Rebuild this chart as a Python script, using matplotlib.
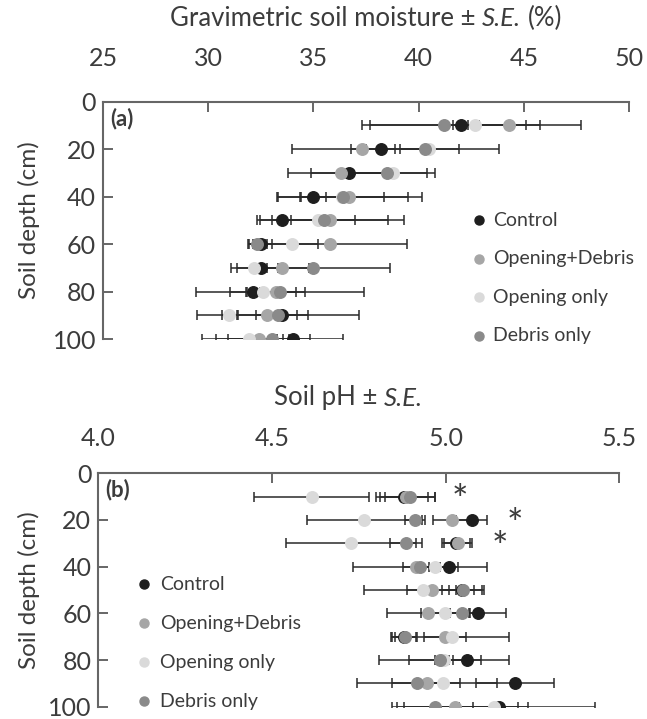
import numpy as np
import matplotlib
matplotlib.use("Agg")
import matplotlib.pyplot as plt

plt.rcParams['font.family'] = ['Lato', 'DejaVu Sans']

depth = [10, 20, 30, 40, 50, 60, 70, 80, 90, 100]
groups = ['Control', 'Opening+Debris', 'Opening only', 'Debris only']
colors = ['#1e1e1e', '#a6a6a6', '#dadada', '#8a8a8a']

# (a) gravimetric soil moisture (%)
moist_control = [42.0, 38.2, 36.7, 35.0, 33.5, 32.5, 32.5, 32.15, 33.5, 34.05]
moist_control_se = [0.35, 0.7, 1.8, 0.6, 0.45, 0.55, 0.3, 0.3, 1.25, 0.8]
moist_opdeb = [44.3, 37.3, 36.3, 36.7, 35.8, 35.8, 33.5, 33.2, 32.8, 32.4]
moist_opdeb_se = [1.45, 3.3, 2.5, 3.45, 3.5, 3.65, 1.3, 1.4, 1.4, 1.45]
moist_open = [42.7, 40.5, 38.8, 36.35, 35.2, 34.0, 32.2, 32.6, 31.0, 31.95]
moist_open_se = [5.0, 1.4, 2.0, 2.0, 1.8, 1.2, 1.1, 1.55, 0.36, 1.6]
moist_deb = [41.2, 40.3, 38.5, 36.4, 35.5, 32.3, 35.0, 33.4, 33.3, 33.05]
moist_deb_se = [3.9, 3.5, 1.9, 3.1, 3.05, 0.4, 3.65, 4.0, 3.85, 3.35]

# (b) soil pH
ph_control = [4.88, 5.075, 5.03, 5.01, 5.046, 5.094, 4.88, 5.061, 5.2, 5.155]
ph_control_se = [0.07, 0.045, 0.04, 0.025, 0.035, 0.08, 0.036, 0.041, 0.113, 0.275]
ph_opdeb = [4.885, 5.017, 5.035, 4.915, 4.96, 4.95, 4.998, 4.99, 4.946, 5.027]
ph_opdeb_se = [0.085, 0.054, 0.04, 0.037, 0.07, 0.12, 0.06, 0.02, 0.202, 0.18]
ph_open = [4.614, 4.766, 4.728, 4.97, 4.936, 4.998, 5.017, 4.995, 4.992, 5.138]
ph_open_se = [0.165, 0.166, 0.188, 0.04, 0.17, 0.07, 0.164, 0.187, 0.05, 0.1]
ph_deb = [4.898, 4.912, 4.886, 4.926, 5.05, 5.046, 4.883, 4.984, 4.917, 4.97]
ph_deb_se = [0.072, 0.03, 0.045, 0.193, 0.06, 0.04, 0.036, 0.09, 0.07, 0.11]

star_depth = [10, 20, 30]
star_ph = [5.042, 5.2, 5.157]

txt = '#3c3c3c'
spc = '#666666'
W, H = 647, 719


def panel(ax, means, ses, xlim, xticks, xticklabels, tag, xpad, ylpad):
    for m, s in zip(means, ses):
        ax.errorbar(m, depth, xerr=s, fmt='none', ecolor='#2a2a2a',
                    elinewidth=1.1, capsize=3.3, capthick=1.1, zorder=2)
    for m, c in zip(means, colors):
        ax.plot(m, depth, 'o', color=c, ms=8.3, mec=c, zorder=3, ls='none')
    ax.set_xlim(*xlim)
    ax.set_ylim(100, 0)
    ax.xaxis.tick_top()
    ax.set_xticks(xticks)
    ax.set_xticklabels(xticklabels)
    ax.set_yticks([0, 20, 40, 60, 80, 100])
    ax.tick_params(axis='x', direction='in', length=7, width=1.4, color=spc,
                   labelsize=18, labelcolor=txt, pad=xpad)
    ax.tick_params(axis='y', direction='in', length=7, width=1.4, color=spc,
                   labelsize=18, labelcolor=txt, pad=5)
    for sp in ['right', 'bottom']:
        ax.spines[sp].set_visible(False)
    for sp in ['top', 'left']:
        ax.spines[sp].set_color(spc)
        ax.spines[sp].set_linewidth(1.5)
    ax.set_ylabel('Soil depth (cm)', fontsize=17.5, color=txt, labelpad=ylpad)
    ax.text(0.014, 0.9, tag, transform=ax.transAxes, fontsize=16,
            fontweight='bold', color=txt)


def mixed_label(fig, xc, yc, pieces, size):
    # pieces of text with their own style, laid side by side, centred at xc, yc (px)
    r = fig.canvas.get_renderer()
    probe = fig.text(0, 0, 'x x', fontsize=size)
    w2 = probe.get_window_extent(r).width
    probe.set_text('xx')
    space = w2 - probe.get_window_extent(r).width
    probe.remove()
    arts = []
    widths = []
    for s, st in pieces:
        t = fig.text(0, 0, s, fontsize=size, style=st, color=txt, va='center')
        arts.append(t)
        widths.append(t.get_window_extent(r).width)
    total = sum(widths) + space * (len(pieces) - 1)
    x = xc - total / 2
    for t, w in zip(arts, widths):
        t.set_position((x / W, 1 - yc / H))
        x += w + space


fig = plt.figure(figsize=(6.47, 7.19), dpi=100)

ax1 = fig.add_axes([0.1592, 0.5285, 0.8130, 0.3301])
panel(ax1, [moist_control, moist_opdeb, moist_open, moist_deb],
      [moist_control_se, moist_opdeb_se, moist_open_se, moist_deb_se],
      (25, 50), [25, 30, 35, 40, 45, 50], ['25', '30', '35', '40', '45', '50'], '(a)', 23, 9)
for i, (g, c) in enumerate(zip(groups, colors)):
    yy = 0.50 - i * 0.162
    ax1.plot(0.715, yy, 'o', color=c, ms=6.5, transform=ax1.transAxes, clip_on=False)
    ax1.text(0.742, yy, g, transform=ax1.transAxes, fontsize=14, color=txt,
             va='center')

ax2 = fig.add_axes([0.1519, 0.0171, 0.8053, 0.3246])
panel(ax2, [ph_control, ph_opdeb, ph_open, ph_deb],
      [ph_control_se, ph_opdeb_se, ph_open_se, ph_deb_se],
      (4.0, 5.5), [4.0, 4.5, 5.0, 5.5], ['4.0', '4.5', '5.0', '5.5'], '(b)', 17, 6)
for d, p in zip(star_depth, star_ph):
    ax2.text(p, d + 2.5, '*', fontsize=28, ha='center', va='center', color=txt)
for i, (g, c) in enumerate(zip(groups, colors)):
    yy = 0.525 - i * 0.167
    ax2.plot(0.088, yy, 'o', color=c, ms=6.5, transform=ax2.transAxes, clip_on=False)
    ax2.text(0.118, yy, g, transform=ax2.transAxes, fontsize=14, color=txt,
             va='center')

mixed_label(fig, 366, 18, [('Gravimetric soil moisture \u00b1', 'normal'),
                           ('S.E.', 'italic'), ('(%)', 'normal')], 18.5)
mixed_label(fig, 348, 398, [('Soil pH \u00b1', 'normal'), ('S.E.', 'italic')], 18.5)

fig.savefig('out.png', dpi=100)
